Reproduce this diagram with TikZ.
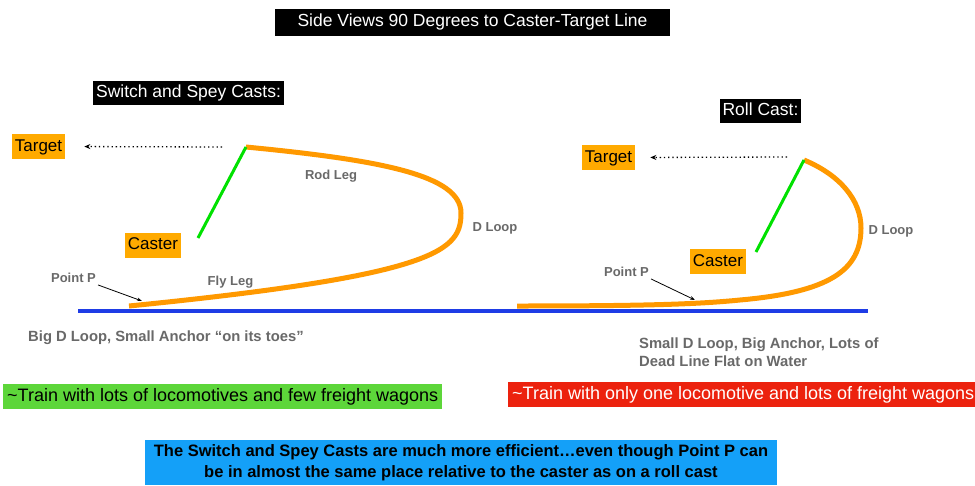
\documentclass[tikz,border=0pt]{standalone}
\usepackage{fontspec}
\setmainfont{Liberation Sans}
\usetikzlibrary{arrows.meta}
\definecolor{lineorange}{RGB}{255,153,0}
\definecolor{boxorange}{RGB}{255,170,0}
\definecolor{rodgreen}{RGB}{0,225,0}
\definecolor{waterblue}{RGB}{30,60,230}
\definecolor{notegray}{RGB}{105,105,105}
\definecolor{goodgreen}{RGB}{93,214,58}
\definecolor{badred}{RGB}{236,34,14}
\definecolor{sumblue}{RGB}{20,160,248}

\begin{document}
\begin{tikzpicture}[x=1pt, y=-1pt,
    banner/.style={fill=black, text=white, font=\fontsize{17.5}{20}\selectfont, text height=12.5pt, text depth=3.5pt, inner xsep=3pt, inner ysep=4pt},
    tagbox/.style={fill=boxorange, font=\fontsize{17}{20}\selectfont, text height=12.5pt, text depth=3.5pt, inner xsep=3pt, inner ysep=4.5pt},
    note/.style={text=notegray, font=\bfseries\fontsize{13}{15}\selectfont, inner sep=2pt},
    caption/.style={text=notegray, font=\bfseries\fontsize{14.8}{18}\selectfont, inner sep=0pt, anchor=west, align=left},
    verdict/.style={font=\fontsize{18}{20}\selectfont, text height=12.5pt, text depth=3.5pt, inner xsep=4pt, inner ysep=4.5pt, anchor=west},
    flyline/.style={draw=lineorange, line width=5pt},
    rod/.style={draw=rodgreen, line width=3pt},
    water/.style={draw=waterblue, line width=4pt},
    aim/.style={line width=1.3pt, dash pattern=on 1.3pt off 2.9pt, -{Stealth[length=6pt,width=5pt]}},
    pointer/.style={line width=0.8pt, -{Stealth[length=5pt,width=3.5pt]}}
  ]
  \useasboundingbox[fill=white] (0,0) rectangle (975,485);

  \node[banner, minimum width=395pt, minimum height=27pt] (title) at (472.5,22) {Side Views 90 Degrees to Caster-Target Line};
  \node[banner] (switchcast) at (188.5,93) {Switch and Spey Casts:};
  \node[banner] (rollcast) at (760.5,110.5) {Roll Cast:};

  \draw[water] (78,311) -- (868,311);

  % switch and spey cast
  \coordinate (tipL) at (246,147);
  \coordinate (handL) at (198,238);
  \coordinate (aimL) at (222,147);
  \coordinate (landL) at (142,301);
  \draw[flyline] (tipL) .. controls (380,160) and (461,175) .. (461,213)
    .. controls (461,250) and (440,275) .. (129,306);
  \draw[rod] (handL) -- (tipL);
  \node[tagbox] (targetL) at (38.5,146.5) {Target};
  \node[tagbox] (casterL) at (153,245) {Caster};
  \node[note] (pointL) at (73.5,278) {Point P};
  \node[note] (rodleg) at (331,176) {Rod Leg};
  \node[note] (flyleg) at (230.5,282) {Fly Leg};
  \node[note] (loopL) at (495,228) {D Loop};
  \draw[aim, shorten >=19pt] (aimL) -- (targetL.east);
  \draw[pointer] (pointL.south east) -- (landL);

  % roll cast
  \coordinate (tipR) at (804,160);
  \coordinate (handR) at (756,252);
  \coordinate (aimR) at (787,157);
  \coordinate (landR) at (695,300);
  \draw[flyline] (tipR) .. controls (840,175) and (861,200) .. (861,228)
    .. controls (861,270) and (830,292) .. (740,300)
    .. controls (700,304) and (650,306) .. (517,306);
  \draw[rod] (handR) -- (tipR);
  \node[tagbox] (targetR) at (608.5,157.5) {Target};
  \node[tagbox] (casterR) at (718,261.5) {Caster};
  \node[note] (pointR) at (626.5,272) {Point P};
  \node[note] (loopR) at (891,231) {D Loop};
  \draw[aim, shorten >=15pt] (aimR) -- (targetR.east);
  \draw[pointer] (pointR.south east) -- (landR);

  \node[caption] (bigloop) at (28,338) {Big D Loop, Small Anchor “on its toes”};
  \node[caption] (smallloop) at (639,352) {Small D Loop, Big Anchor, Lots of\\Dead Line Flat on Water};

  \node[verdict, fill=goodgreen] (goodtrain) at (3,396.5) {\textasciitilde Train with lots of locomotives and few freight wagons};
  \node[verdict, fill=badred, text=white] (badtrain) at (508,394.5) {\textasciitilde Train with only one locomotive and lots of freight wagons};

  \node[fill=sumblue, minimum width=632pt, minimum height=45pt, align=center, inner sep=0pt,
    font=\bfseries\fontsize{16.5}{21}\selectfont] (summary) at (461,462.5)
    {The Switch and Spey Casts are much more efficient…even though Point P can\\be in almost the same place relative to the caster as on a roll cast};
\end{tikzpicture}
\end{document}
